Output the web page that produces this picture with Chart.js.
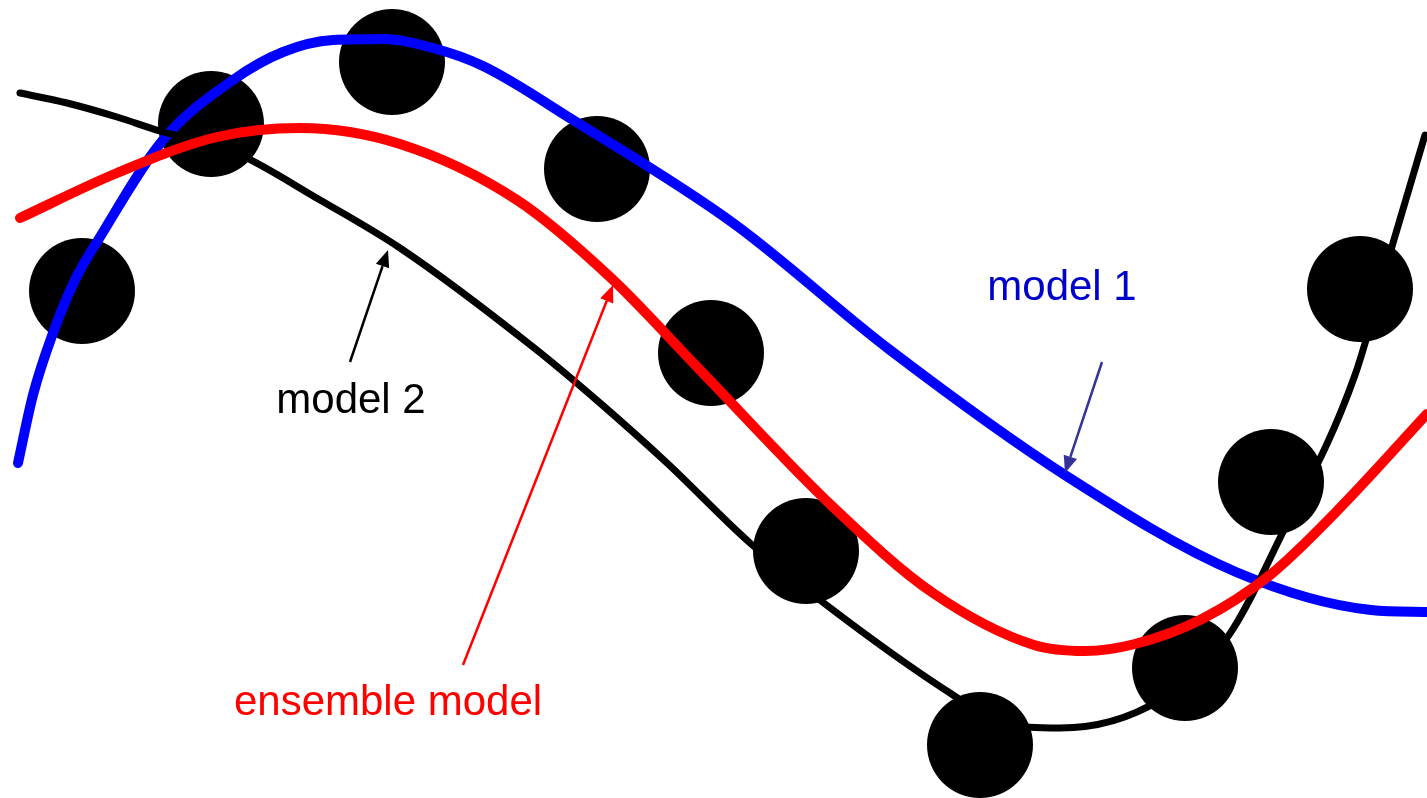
<!DOCTYPE html>
<html>
<head>
<meta charset="utf-8">
<title>ensemble model</title>
<script src="https://cdn.jsdelivr.net/npm/chart.js@4/dist/chart.umd.min.js"></script>
<style>
    html, body { margin: 0; padding: 0; background: #fff; }
    #wrap { width: 1427px; height: 798px; position: relative; }
</style>
</head>
<body>
<div id="wrap"><canvas id="ensembleChart"></canvas></div>
<script>
// observed samples (black dots)
const dotX = [0.82, 2.11, 3.92, 5.97, 7.11, 8.06, 9.80, 11.85, 12.71, 13.60];
const dotY = [5.07, 6.74, 7.36, 6.29, 4.45, 2.47, 0.53, 1.30, 3.16, 5.09];

// model 1 (blue)
const model1X = [0.18, 0.33, 0.53, 0.75, 1.00, 1.63, 2.33, 2.83, 3.33, 3.83, 4.33, 4.83, 5.73, 7.33, 8.90, 10.68, 12.36, 13.71, 14.27];
const model1Y = [3.35, 4.03, 4.65, 5.18, 5.61, 6.58, 7.18, 7.46, 7.58, 7.59, 7.50, 7.32, 6.78, 5.75, 4.48, 3.21, 2.26, 1.88, 1.86];

// model 2 (black)
const model2X = [0.20, 0.67, 1.17, 1.60, 2.30, 3.20, 4.00, 5.33, 6.00, 6.67, 7.50, 8.33, 9.50, 10.00, 10.60, 11.60, 12.29, 12.80, 13.55, 13.93, 14.25];
const model2Y = [7.05, 6.95, 6.81, 6.67, 6.48, 5.98, 5.50, 4.51, 3.95, 3.35, 2.55, 1.88, 1.05, 0.76, 0.70, 0.98, 1.63, 2.60, 4.23, 5.55, 6.63];

// ensemble model (red)
const ensembleX = [0.20, 1.17, 2.17, 3.00, 4.00, 5.17, 6.10, 7.00, 8.33, 9.33, 10.34, 10.85, 11.35, 12.02, 12.70, 13.37, 14.27];
const ensembleY = [5.80, 6.25, 6.61, 6.70, 6.54, 5.98, 5.21, 4.28, 2.91, 2.05, 1.53, 1.47, 1.54, 1.79, 2.23, 2.87, 3.84];

// annotations: text + arrow (data units)
const labelText = ['model 1', 'model 2', 'ensemble model'];
const labelX = [10.62, 3.51, 3.88];
const labelY = [4.98, 3.85, 0.83];
const arrowFromX = [11.02, 3.50, 4.63];
const arrowFromY = [4.36, 4.36, 1.33];
const arrowToX = [10.65, 3.88, 6.13];
const arrowToY = [3.25, 5.48, 5.13];

const textColors = ['#0000cc', '#000000', '#ff0000'];
const arrowColors = ['#333399', '#000000', '#ff0000'];

const toPoints = (xs, ys) => xs.map((x, i) => ({ x: x, y: ys[i] }));

// arrows and labels drawn on top of the curves
const annotationPlugin = {
    id: 'annotations',
    afterDatasetsDraw(chart) {
        const ctx = chart.ctx;
        const xs = chart.scales.x;
        const ys = chart.scales.y;
        ctx.save();
        labelText.forEach((txt, i) => {
            const x1 = xs.getPixelForValue(arrowFromX[i]);
            const y1 = ys.getPixelForValue(arrowFromY[i]);
            const x2 = xs.getPixelForValue(arrowToX[i]);
            const y2 = ys.getPixelForValue(arrowToY[i]);
            const ang = Math.atan2(y2 - y1, x2 - x1);
            const headLen = 17;
            const headW = 7;
            const bx = x2 - headLen * Math.cos(ang);
            const by = y2 - headLen * Math.sin(ang);

            ctx.strokeStyle = arrowColors[i];
            ctx.fillStyle = arrowColors[i];
            ctx.lineWidth = 2.5;
            ctx.beginPath();
            ctx.moveTo(x1, y1);
            ctx.lineTo(bx, by);
            ctx.stroke();

            ctx.beginPath();
            ctx.moveTo(x2, y2);
            ctx.lineTo(bx + headW * Math.sin(ang), by - headW * Math.cos(ang));
            ctx.lineTo(bx - headW * Math.sin(ang), by + headW * Math.cos(ang));
            ctx.closePath();
            ctx.fill();

            ctx.fillStyle = textColors[i];
            ctx.font = '42px "Liberation Sans", Arial, sans-serif';
            ctx.textAlign = 'center';
            ctx.textBaseline = 'alphabetic';
            ctx.fillText(txt, xs.getPixelForValue(labelX[i]), ys.getPixelForValue(labelY[i]));
        });
        ctx.restore();
    }
};

const lineStyle = {
    showLine: true,
    pointRadius: 0,
    pointHoverRadius: 0,
    borderCapStyle: 'round',
    borderJoinStyle: 'round',
    cubicInterpolationMode: 'monotone',
    fill: false
};

const ctx = document.getElementById('ensembleChart').getContext('2d');
new Chart(ctx, {
    type: 'scatter',
    data: {
        datasets: [
            Object.assign({ label: 'ensemble model', data: toPoints(ensembleX, ensembleY), borderColor: '#ff0000', borderWidth: 10 }, lineStyle),
            Object.assign({ label: 'model 2', data: toPoints(model2X, model2Y), borderColor: '#000000', borderWidth: 7 }, lineStyle),
            Object.assign({ label: 'model 1', data: toPoints(model1X, model1Y), borderColor: '#0000ff', borderWidth: 10 }, lineStyle),
            {
                label: 'data',
                data: toPoints(dotX, dotY),
                showLine: false,
                pointRadius: 53,
                pointHoverRadius: 53,
                pointBackgroundColor: '#000000',
                pointBorderWidth: 0
            }
        ]
    },
    options: {
        responsive: true,
        maintainAspectRatio: false,
        animation: false,
        layout: { padding: 0, autoPadding: false },
        plugins: {
            legend: { display: false },
            tooltip: { enabled: false }
        },
        events: [],
        scales: {
            x: { type: 'linear', min: 0, max: 14.27, display: false },
            y: { type: 'linear', min: 0, max: 7.98, display: false }
        }
    },
    plugins: [annotationPlugin]
});
</script>
</body>
</html>
